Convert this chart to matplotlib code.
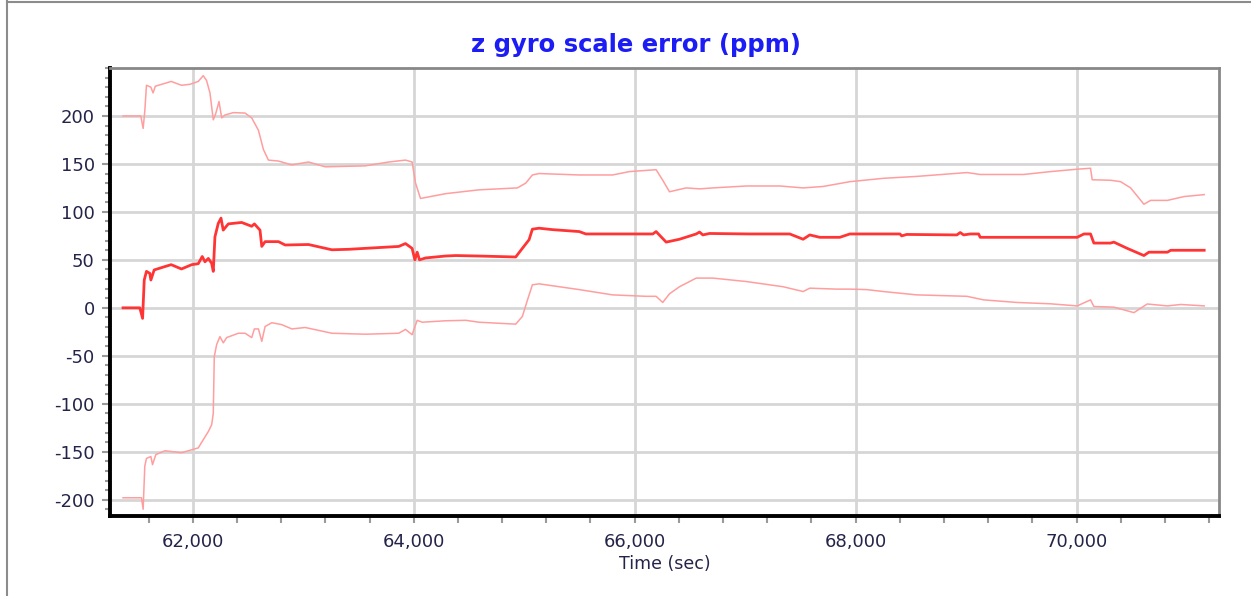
import matplotlib
matplotlib.use("Agg")
import matplotlib.pyplot as plt
from matplotlib.ticker import MultipleLocator, FuncFormatter, FixedLocator
from matplotlib.lines import Line2D

# ---------------- data ----------------
upper_t = [61368, 61529, 61550, 61565, 61580, 61620, 61640, 61660, 61747, 61804, 61897, 61974,
           62049, 62094, 62124, 62155, 62185, 62206, 62237, 62261, 62291, 62367, 62473, 62533,
           62594, 62639, 62684, 62775, 62896, 63047, 63199, 63562, 63773, 63925, 63985, 64016,
           64061, 64288, 64590, 64938, 65014, 65074, 65135, 65498, 65800, 65952, 66194, 66254,
           66315, 66466, 66587, 66708, 67011, 67313, 67525, 67706, 67948, 68251, 68554, 69008,
           69128, 69521, 69764, 70006, 70127, 70142, 70308, 70399, 70490, 70610, 70671, 70823,
           70974, 71156]
upper_v = [200, 200, 187, 205, 232, 230, 224, 231, 234, 236, 232, 233,
           236, 242, 237, 224, 196, 202, 215, 198, 201, 203.5, 203, 198,
           185, 165, 154, 153, 149, 152, 147, 148, 152, 154, 152, 130,
           114, 119, 123, 125, 130, 138.5, 140, 138.5, 138.5, 142, 144, 133,
           121, 125, 124, 125, 127, 127, 125, 126.5, 131.5, 135, 137, 141,
           139, 139, 142, 144.5, 145.5, 133.5, 133, 131.5, 125, 108, 112, 112,
           116, 118]

middle_t = [61368, 61520, 61545, 61560, 61580, 61610, 61620, 61650, 61747, 61804, 61897, 61990,
            62049, 62085, 62110, 62140, 62170, 62185, 62200, 62230, 62255, 62275, 62321, 62442,
            62533, 62557, 62608, 62624, 62654, 62775, 62836, 63047, 63259, 63410, 63864, 63925,
            63985, 64010, 64031, 64052, 64107, 64288, 64380, 64590, 64923, 64983, 65044, 65074,
            65135, 65256, 65498, 65558, 65952, 66164, 66194, 66285, 66406, 66557, 66587, 66617,
            66677, 67040, 67404, 67525, 67585, 67676, 67857, 67948, 68402, 68417, 68463, 68917,
            68947, 68978, 69038, 69114, 69128, 70006, 70067, 70127, 70157, 70308, 70338, 70459,
            70610, 70655, 70823, 70853, 71156]
middle_v = [0, 0, -11, 29, 38, 36, 29, 39.5, 43, 45, 40.5, 45,
            46, 53.5, 48, 51.5, 46.5, 38, 74, 88, 93.5, 81, 87.5, 89,
            85, 87.5, 81, 64, 69, 69, 65.5, 66, 60.5, 61, 64, 67,
            62, 50, 58, 50, 52, 54, 54.5, 54, 53, 62, 71, 82,
            83, 81.5, 79.5, 77, 77, 77, 79.5, 68.5, 71.5, 77, 79, 76,
            77.5, 77, 77, 71.5, 76, 73.5, 73.5, 77, 77, 75, 76.5, 76,
            78.5, 76, 77, 77, 73.5, 73.5, 77, 77, 67.5, 67.5, 68.5, 62,
            54.5, 58, 58, 60, 60]

lower_t = [61368, 61535, 61550, 61565, 61580, 61620, 61635, 61665, 61747, 61897, 61990, 62049,
           62094, 62140, 62170, 62185, 62194, 62215, 62245, 62276, 62306, 62412, 62473, 62533,
           62557, 62594, 62624, 62654, 62715, 62805, 62896, 63017, 63259, 63562, 63864, 63925,
           63985, 64031, 64076, 64288, 64470, 64590, 64923, 64983, 65029, 65074, 65135, 65498,
           65800, 66103, 66194, 66254, 66315, 66406, 66557, 66708, 67011, 67343, 67525, 67585,
           67828, 67948, 68100, 68251, 68554, 69008, 69159, 69461, 69764, 70006, 70127, 70157,
           70338, 70520, 70640, 70823, 70944, 71156]
lower_v = [-198, -198, -210, -165, -157, -155, -163.5, -153, -149, -151, -148, -146,
           -137.5, -129, -122, -110, -51, -38.5, -30, -36.5, -31, -26.5, -26.5, -31,
           -22, -22, -35, -19.5, -15.5, -17.5, -22, -20.5, -26.5, -27.5, -26.5, -22.5,
           -28, -13, -15, -13.5, -13, -15, -17, -9, 8, 24, 25, 19,
           13.5, 12, 12, 5.6, 14.6, 22, 31, 31, 27.4, 22, 17, 20.5,
           19.5, 19.5, 19, 17, 13.5, 12, 8.3, 5.6, 4.2, 2, 8.3, 1.4,
           0.7, -5, 4, 2, 3.5, 2]

y_ticks = [-200, -150, -100, -50, 0, 50, 100, 150, 200]
x_ticks = [62000, 64000, 66000, 68000, 70000]

title_text = "z gyro scale error (ppm)"
x_label = "Time (sec)"

# ---------------- figure ----------------
plt.rcParams['font.family'] = ['DejaVu Sans']
plt.rcParams['axes.unicode_minus'] = False

W, H = 1251, 596
fig = plt.figure(figsize=(W / 100, H / 100), dpi=100)
fig.patch.set_facecolor('white')

# outer frame (left and top edges visible in reference)
fig.add_artist(Line2D([7 / W, 7 / W], [0, 1 - 1 / H], color='#8c8c8c', lw=1.5,
                      transform=fig.transFigure))
fig.add_artist(Line2D([7 / W, 1], [1 - 1.5 / H, 1 - 1.5 / H], color='#8c8c8c', lw=1.5,
                      transform=fig.transFigure))

left, right, top, bottom = 110, 1219, 68, 516
ax = fig.add_axes([left / W, (H - bottom) / H, (right - left) / W, (bottom - top) / H])

env_color = '#ff9e9e'
ax.plot(upper_t, upper_v, color=env_color, lw=1.1, zorder=3)
ax.plot(lower_t, lower_v, color=env_color, lw=1.1, zorder=3)
ax.plot(middle_t, middle_v, color='#ff3535', lw=2.0, zorder=4)

ax.set_xlim(61250, 71290)
ax.set_ylim(-217, 250)

ax.xaxis.set_major_locator(FixedLocator(x_ticks))
ax.xaxis.set_minor_locator(MultipleLocator(400))
ax.yaxis.set_major_locator(FixedLocator(y_ticks))
ax.yaxis.set_minor_locator(MultipleLocator(10))
ax.xaxis.set_major_formatter(FuncFormatter(lambda v, p: f"{int(round(v)):,}"))
ax.yaxis.set_major_formatter(FuncFormatter(lambda v, p: f"{int(round(v))}"))

ax.grid(True, which='major', color='#d6d6d6', lw=2.0, zorder=1)
ax.set_axisbelow(True)

label_color = '#24244a'
ax.tick_params(axis='both', which='both', direction='out', color='#9a9a9a',
               labelcolor=label_color, labelsize=13)
ax.tick_params(axis='x', which='major', length=5, width=1.5, pad=7)
ax.tick_params(axis='x', which='minor', length=5, width=1.5)
ax.tick_params(axis='y', which='major', length=6, width=1.5, pad=5)
ax.tick_params(axis='y', which='minor', length=3.5, width=1.5)

for s in ('top', 'right'):
    ax.spines[s].set_color('#888888')
    ax.spines[s].set_linewidth(2.0)
for s in ('left', 'bottom'):
    ax.spines[s].set_color('black')
    ax.spines[s].set_linewidth(2.8)

fig.text(636 / W, 1 - 45 / H, title_text, color='#1c1cf5', fontsize=17.5,
         fontweight='bold', ha='center', va='center')
ax.set_xlabel(x_label, fontsize=12.5, color=label_color, labelpad=3)

fig.savefig('out.png', dpi=100, facecolor='white')
